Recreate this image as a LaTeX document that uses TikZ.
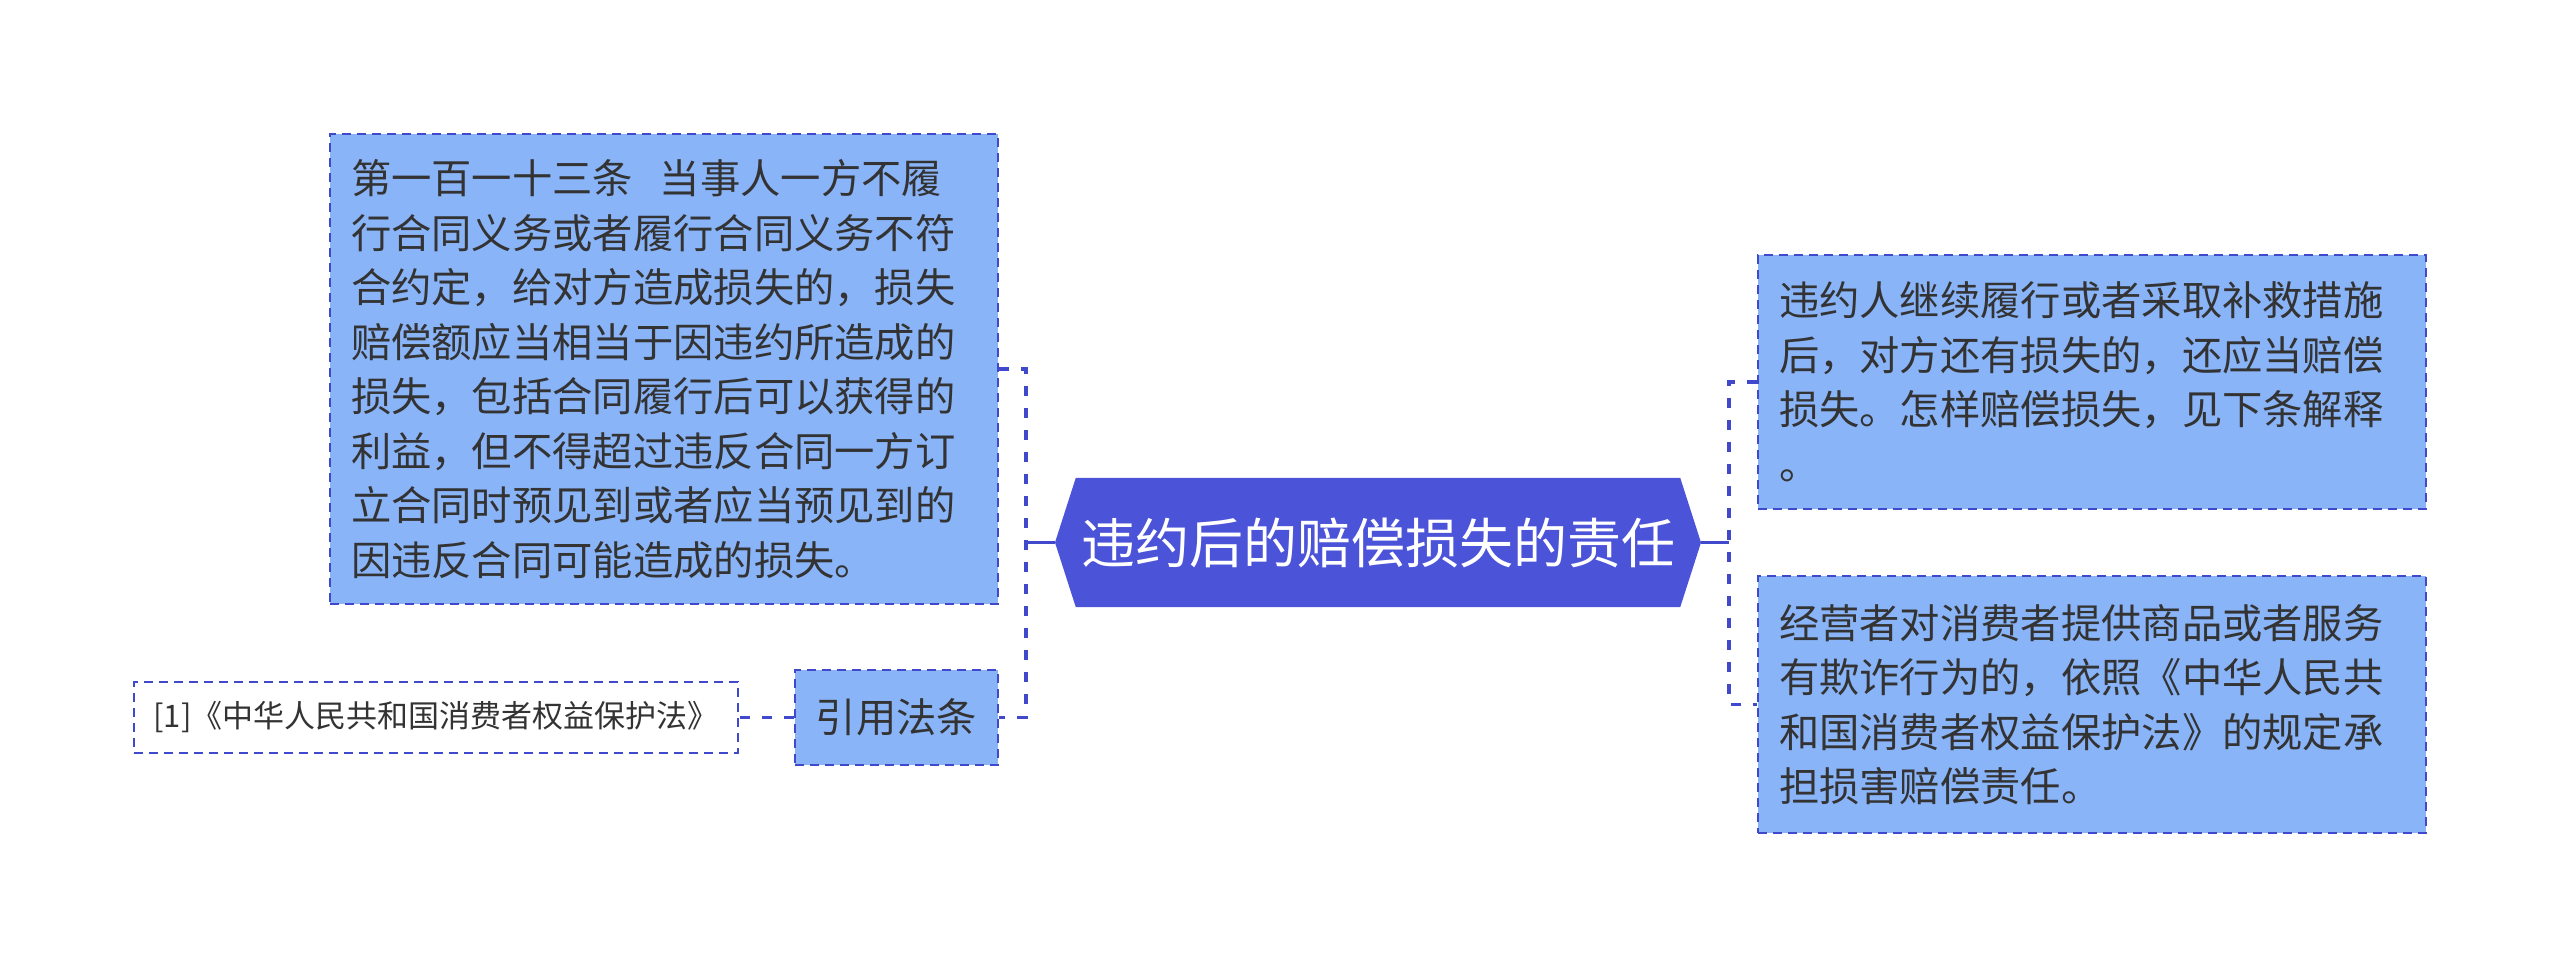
\documentclass[tikz,border=0pt]{standalone}
\usepackage{fontspec}
\newfontfamily\cjkfont{Noto Sans CJK SC}
\usetikzlibrary{backgrounds}
\definecolor{hexblue}{HTML}{4B53D9}
\definecolor{edgeblue}{HTML}{4048CC}
\definecolor{lightblue}{HTML}{8AB4F8}
\definecolor{textgray}{HTML}{333333}
\tikzset{
  leaf/.style={rectangle, draw=edgeblue, line width=2.4pt, dash pattern=on 9pt off 6pt,
    fill=lightblue, text=textgray, inner xsep=21pt, inner ysep=0pt, align=left,
    font=\cjkfont\fontsize{40.3}{54.5}\selectfont},
  citebox/.style={rectangle, draw=edgeblue, line width=2.4pt, dash pattern=on 9pt off 6pt,
    fill=white, text=textgray, inner sep=0pt,
    font=\cjkfont\fontsize{31}{36}\selectfont},
  rootnode/.style={rectangle, inner sep=0pt, text=white,
    font=\cjkfont\fontsize{54}{62}\selectfont},
  conn/.style={draw=edgeblue, line width=3.5pt, dash pattern=on 10pt off 12pt},
  stub/.style={draw=edgeblue, line width=3.5pt},
}
\begin{document}
\begin{tikzpicture}[x=1pt,y=-1pt]
\useasboundingbox (0,0) rectangle (2560,967);

% root
\node[rootnode, minimum width=604pt, minimum height=129pt] (root) at (1378,542.5) {违约后的赔偿损失的责任};
\coordinate (hexL) at (1055,542.5);
\coordinate (hexR) at (1701,542.5);
\begin{scope}[on background layer]
  \fill[hexblue] (root.north west) -- (root.north east) -- (hexR) -- (root.south east)
    -- (root.south west) -- (hexL) -- cycle;
\end{scope}

% left children
\node[leaf, minimum width=668pt, minimum height=470pt, text width=626pt] (big) at (664,369)
  {第一百一十三条\ \ 当事人一方不履\\
   行合同义务或者履行合同义务不符\\
   合约定，给对方造成损失的，损失\\
   赔偿额应当相当于因违约所造成的\\
   损失，包括合同履行后可以获得的\\
   利益，但不得超过违反合同一方订\\
   立合同时预见到或者应当预见到的\\
   因违反合同可能造成的损失。};

\node[leaf, align=center, inner xsep=0pt, minimum width=203pt, minimum height=95pt] (yy) at (896.5,717.5) {引用法条};

\node[citebox, minimum width=604pt, minimum height=71pt] (cite) at (436,717.5) {[1]《中华人民共和国消费者权益保护法》};

% right children
\node[leaf, minimum width=668pt, minimum height=254pt, text width=626pt] (r1) at (2092,382)
  {违约人继续履行或者采取补救措施\\
   后，对方还有损失的，还应当赔偿\\
   损失。怎样赔偿损失，见下条解释\\
   。};

\node[leaf, minimum width=668pt, minimum height=257pt, text width=626pt] (r2) at (2092,704.5)
  {经营者对消费者提供商品或者服务\\
   有欺诈行为的，依照《中华人民共\\
   和国消费者权益保护法》的规定承\\
   担损害赔偿责任。};

% junctions
\coordinate (ljunc) at (1026,542.5);
\coordinate (rjunc) at (1729,542.5);

% connectors
\draw[stub] (hexL) -- (ljunc);
\draw[conn] (big.east) -| (ljunc) |- (yy.east);
\draw[stub] (hexR) -- (rjunc);
\draw[conn] (r1.west) -| (rjunc) |- (r2.west);
\draw[conn] (yy.west) -- (cite.east);
\end{tikzpicture}
\end{document}
